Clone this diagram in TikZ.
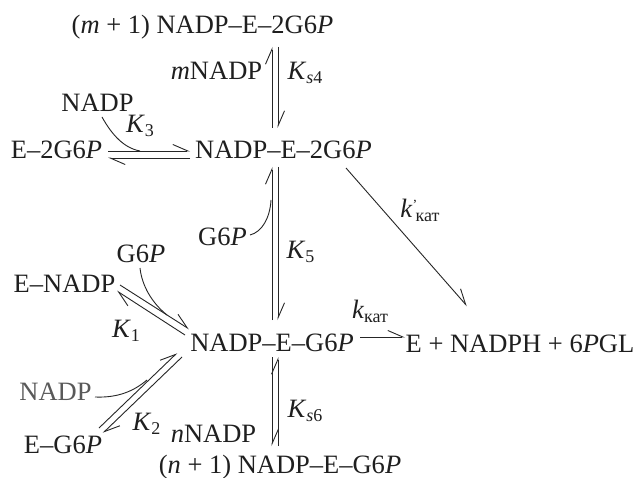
\documentclass[tikz,border=0pt]{standalone}
\usepackage{fontspec}
\setmainfont{Liberation Serif}
\usetikzlibrary{arrows.meta}
\newcommand\subsc[1]{\raisebox{-4pt}{\fontsize{18}{18}\selectfont #1}}
\newcommand\Pit{\textit{P}}
\tikzset{
  lbl/.style={anchor=base,inner sep=0pt,outer sep=0pt,text=black!88,font=\fontsize{26.5}{26.5}\selectfont},
  conn/.style={line width=0.9pt,draw=black!85},
  barbL/.style={conn,-{Straight Barb[harpoon,length=15pt,width=13pt,line width=0.9pt]}},
  curv/.style={line width=0.9pt,draw=black!85},
}
\begin{document}
\begin{tikzpicture}[x=1pt,y=-1pt]
\useasboundingbox (0,0) rectangle (636,478);
\fill[white] (0,0) rectangle (636,478);
% species
\node[lbl] (top) at (202.5,34) {(\textit{m} + 1) NADP–E–2G6\Pit};
\node[lbl] (mnadp) at (216.5,80) {\textit{m}NADP};
\node[lbl] (ks4) at (305,80) {\textit{K}\subsc{\textit{s}4}};
\node[lbl] (nadpa) at (97.5,112) {NADP};
\node[lbl] (k3) at (140,133) {\textit{K}\subsc{3}};
\node[lbl] (e2g) at (56.5,159) {E–2G6\Pit};
\node[lbl] (ne2g) at (283.5,159) {NADP–E–2G6\Pit};
\node[lbl] (g6pu) at (222.5,245) {G6\Pit};
\node[lbl] (k5) at (300.5,258) {\textit{K}\subsc{5}};
\node[lbl] (g6pl) at (141,262) {G6\Pit};
\node[lbl] (enadp) at (64.5,292) {E–NADP};
\node[lbl] (k1) at (126,337) {\textit{K}\subsc{1}};
\node[lbl] (neg) at (272,351) {NADP–E–G6\Pit};
\node[lbl] (kkat) at (370,318) {\textit{k}\subsc{кат}};
\node[lbl] (kkatp) at (420,217) {\textit{k}\raisebox{8pt}{\fontsize{14}{14}\selectfont '}\hspace{-1.5pt}\subsc{кат}};
\node[lbl] (prod) at (520,352) {E + NADPH + 6\Pit GL};
\node[lbl,text=black!65] (nadpb) at (55.5,400) {NADP};
\node[lbl] (k2) at (146.5,430) {\textit{K}\subsc{2}};
\node[lbl] (eg) at (63,453) {E–G6\Pit};
\node[lbl] (nnadp) at (213.5,442) {\textit{n}NADP};
\node[lbl] (ks6) at (305,417) {\textit{K}\subsc{\textit{s}6}};
\node[lbl] (bot) at (280,473) {(\textit{n} + 1) NADP–E–G6\Pit};
% end points of the double connectors
\coordinate (a1) at (272,47);  \coordinate (a2) at (272,128);
\coordinate (a3) at (278,47);  \coordinate (a4) at (278,128);
\coordinate (b1) at (272,167); \coordinate (b2) at (272,320);
\coordinate (b3) at (278,167); \coordinate (b4) at (278,320);
\coordinate (c1) at (272,357); \coordinate (c2) at (272,446);
\coordinate (c3) at (278,357); \coordinate (c4) at (278,446);
\coordinate (d1) at (108,151); \coordinate (d2) at (190,151);
\coordinate (d3) at (108,158); \coordinate (d4) at (190,158);
\coordinate (e1) at (120,285); \coordinate (e2) at (189,329);
\coordinate (e3) at (117,291); \coordinate (e4) at (185,335);
\coordinate (f1) at (99,428);  \coordinate (f2) at (177,353);
\coordinate (f3) at (103,433); \coordinate (f4) at (182,357);
\coordinate (g1) at (360,337); \coordinate (g2) at (405,337);
\coordinate (h1) at (346,168); \coordinate (h2) at (467,306);
% joining points of the curved substrates
\coordinate (j1) at (140,151); \coordinate (j2) at (271,200);
\coordinate (j3) at (167,315); \coordinate (j4) at (147,380);
\coordinate (s1) at (102,117); \coordinate (s2) at (250,235);
\coordinate (s3) at (140,268); \coordinate (s4) at (95,397);
% reversible connectors
\draw[barbL] (a2) -- (a1);
\draw[barbL] (a3) -- (a4);
\draw[barbL] (b2) -- (b1);
\draw[barbL] (b3) -- (b4);
\draw[barbL] (c1) -- (c2);
\draw[barbL] (c4) -- (c3);
\draw[barbL] (d1) -- (d2);
\draw[barbL] (d4) -- (d3);
\draw[barbL] (e1) -- (e2);
\draw[barbL] (e4) -- (e3);
\draw[barbL] (f1) -- (f2);
\draw[barbL] (f4) -- (f3);
\draw[barbL] (g1) -- (g2);
\draw[barbL] (h1) -- (h2);
% substrate curves
\draw[curv] (s1) .. controls (112,135) and (124,148) .. (j1);
\draw[curv] (s2) .. controls (262,232) and (270,218) .. (j2);
\draw[curv] (s3) .. controls (142,286) and (152,303) .. (j3);
\draw[curv] (s4) .. controls (118,398) and (134,391) .. (j4);
\end{tikzpicture}
\end{document}
